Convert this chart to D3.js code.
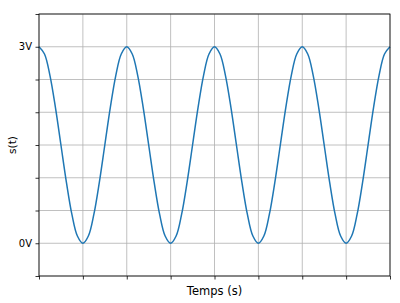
<!DOCTYPE html>
<html>
  <head>
    <meta charset="utf-8">
    <title>s(t)</title>
    <script src="https://d3js.org/d3.v7.min.js"></script>
    <style>
      body { margin: 0; background: #fff; }
      text { font-family: "DejaVu Sans", sans-serif; fill: #000; }
    </style>
  </head>
  <body>
  <div id="chart"></div>
  <script>
    // 信号の値 (1/16周期ごとに読み取り)
    var times = d3.range(0, 65).map(function (i) { return i / 16; });
    var periodValues = [3, 2.89, 2.56, 2.07, 1.5, 0.93, 0.44, 0.11, 0, 0.11, 0.44, 0.93, 1.5, 2.07, 2.56, 2.89];
    var signal = [].concat(periodValues, periodValues, periodValues, periodValues, [3]);
    var xTicks = [0, 0.5, 1, 1.5, 2, 2.5, 3, 3.5, 4];
    var yTicks = [-0.5, 0, 0.5, 1, 1.5, 2, 2.5, 3, 3.5];
    var yTickLabels = {0: "0V", 3: "3V"};

    var W = 400, H = 303;
    var margin = {top: 14, right: 10, bottom: 27, left: 39};
    var width = W - margin.left - margin.right,
        height = H - margin.top - margin.bottom;

    var svg = d3.select("#chart").append("svg")
                .attr("width", W)
                .attr("height", H)
              .append("g")
                .attr("transform", `translate(${margin.left}, ${margin.top})`);

    var x = d3.scaleLinear().domain([0, 4]).range([0, width]);
    var y = d3.scaleLinear().domain([-0.5, 3.5]).range([height, 0]);

    // グリッド
    svg.append("g")
      .selectAll("line")
      .data(xTicks)
      .enter().append("line")
        .attr("x1", function (d) { return x(d); })
        .attr("x2", function (d) { return x(d); })
        .attr("y1", 0).attr("y2", height)
        .attr("stroke", "#b0b0b0").attr("stroke-width", 0.8);
    svg.append("g")
      .selectAll("line")
      .data(yTicks)
      .enter().append("line")
        .attr("y1", function (d) { return y(d); })
        .attr("y2", function (d) { return y(d); })
        .attr("x1", 0).attr("x2", width)
        .attr("stroke", "#b0b0b0").attr("stroke-width", 0.8);

    // 曲線
    var line = d3.line()
      .x(function (d, i) { return x(times[i]); })
      .y(function (d) { return y(d); })
      .curve(d3.curveCatmullRom);
    svg.append("path")
      .datum(signal)
      .attr("fill", "none")
      .attr("stroke", "#1f77b4")
      .attr("stroke-width", 1.5)
      .attr("d", line);

    // 軸
    var xAxis = svg.append("g")
      .attr("transform", `translate(0, ${height})`)
      .call(d3.axisBottom(x).tickValues(xTicks).tickFormat("").tickSizeInner(3.5).tickSizeOuter(0));
    var yAxis = svg.append("g")
      .call(d3.axisLeft(y).tickValues(yTicks)
        .tickFormat(function (d) { return yTickLabels[d] || ""; })
        .tickSizeInner(3.5).tickSizeOuter(0).tickPadding(3.5));
    yAxis.selectAll("text").style("font-size", "10px").attr("font-family", "DejaVu Sans");
    [xAxis, yAxis].forEach(function (a) {
      a.select(".domain").remove();
      a.selectAll(".tick line").attr("stroke", "#000").attr("stroke-width", 0.8);
    });

    // 枠
    svg.append("rect")
      .attr("width", width).attr("height", height)
      .attr("fill", "none").attr("stroke", "#000").attr("stroke-width", 0.8);

    svg.append("text")
      .attr("x", width / 2)
      .attr("y", height + 19)
      .attr("text-anchor", "middle")
      .style("font-size", "11.5px")
      .text("Temps (s)");
    svg.append("text")
      .attr("transform", `translate(${-margin.left + 15.5}, ${height / 2}) rotate(-90)`)
      .attr("text-anchor", "middle")
      .style("font-size", "10.5px")
      .text("s(t)");
  </script>
  </body>
</html>
